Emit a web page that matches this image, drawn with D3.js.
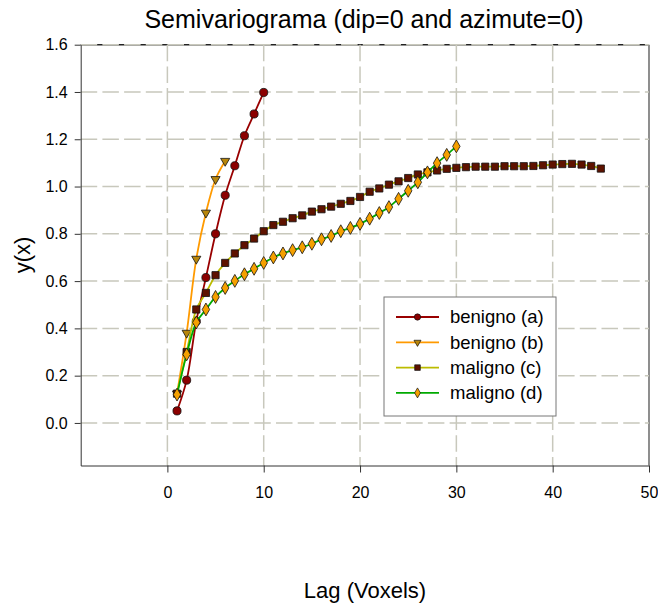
<html>
<head>
	<meta charset="utf-8">
	<title>Semivariograma</title>
	<script src="https://d3js.org/d3.v7.min.js"></script>

	<style>
	body {
	  margin: 0;
	  background: #fff;
	}
	text {
	  font-family: Arial, "Liberation Sans", sans-serif;
	  fill: #000;
	}
	.grid line {
	  stroke: #c8c8bc;
	  stroke-width: 1.5;
	  stroke-dasharray: 16.5, 5.2;
	}
	.axis path, .axis line {
	  stroke: #333;
	}
	.axis text {
	  font-size: 16px;
	}
	</style>
</head>
<body>
	<div id="chart"></div>

	<script>
		// data
		var lagA = [1, 2, 3, 4, 5, 6, 7, 8, 9, 10];
		var benignoA = [0.051, 0.181, 0.43, 0.615, 0.80, 0.963, 1.088, 1.215, 1.307, 1.398];

		var lagB = [1, 2, 3, 4, 5, 6];
		var benignoB = [0.124, 0.381, 0.694, 0.889, 1.031, 1.108];

		var lagC = d3.range(1, 46);
		var malignoC = [0.124, 0.30, 0.48, 0.55, 0.625, 0.677, 0.717, 0.752, 0.78, 0.811,
		                0.837, 0.851, 0.866, 0.878, 0.894, 0.904, 0.915, 0.927, 0.939, 0.956,
		                0.978, 0.992, 1.008, 1.022, 1.036, 1.051, 1.060, 1.068, 1.075, 1.079,
		                1.082, 1.084, 1.084, 1.084, 1.086, 1.086, 1.086, 1.087, 1.090, 1.093,
		                1.095, 1.096, 1.093, 1.087, 1.076];

		var lagD = d3.range(1, 31);
		var malignoD = [0.12, 0.29, 0.425, 0.48, 0.533, 0.571, 0.601, 0.629, 0.652, 0.677,
		                0.70, 0.717, 0.731, 0.743, 0.758, 0.777, 0.791, 0.811, 0.825, 0.842,
		                0.864, 0.888, 0.913, 0.948, 0.982, 1.018, 1.060, 1.099, 1.134, 1.170];

		var xTicks = [0, 10, 20, 30, 40, 50];
		var yTicks = [0, 0.2, 0.4, 0.6, 0.8, 1.0, 1.2, 1.4, 1.6];

		var series = [
		  {name: "benigno (a)", x: lagA, y: benignoA, line: "#990000", fill: "#8b0000", symbol: d3.symbolCircle, size: 52, rot: 0},
		  {name: "benigno (b)", x: lagB, y: benignoB, line: "#ff9a00", fill: "#b8860b", symbol: d3.symbolTriangle, size: 36, rot: 180},
		  {name: "maligno (c)", x: lagC, y: malignoC, line: "#bcbc00", fill: "#5e1200", symbol: d3.symbolSquare, size: 52, rot: 0},
		  {name: "maligno (d)", x: lagD, y: malignoD, line: "#00aa00", fill: "#f5a000", symbol: d3.symbolDiamond, size: 48, rot: 0}
		];

		var svg = d3.select("#chart")
			.append("svg")
			.attr("width", 658)
			.attr("height", 605),
		    margin = {top: 44.7, right: 9, bottom: 139.5, left: 80.7},
		    width = 658 - margin.left - margin.right,
		    height = 605 - margin.top - margin.bottom;

		var x = d3.scaleLinear().domain([-9, 50]).range([0, width]),
		    y = d3.scaleLinear().domain([-0.18, 1.6]).range([height, 0]);

		var g = svg.append("g")
		    .attr("transform", "translate(" + margin.left + "," + margin.top + ")");

		// frame top and right
		g.append("line").attr("x1", 0).attr("x2", width).attr("y1", 0).attr("y2", 0)
		    .attr("stroke", "#222").attr("stroke-width", 1.5);
		g.append("line").attr("x1", width).attr("x2", width).attr("y1", 0).attr("y2", height)
		    .attr("stroke", "#444").attr("stroke-width", 1.2);

		// dashed grid
		var grid = g.append("g").attr("class", "grid");
		grid.selectAll(".hy")
		    .data(yTicks)
		    .enter().append("line")
		      .attr("x1", 0).attr("x2", width)
		      .attr("y1", function(d) { return y(d); })
		      .attr("y2", function(d) { return y(d); });
		grid.selectAll(".vx")
		    .data(xTicks.slice(0, -1))
		    .enter().append("line")
		      .attr("y1", 0).attr("y2", height)
		      .attr("x1", function(d) { return x(d); })
		      .attr("x2", function(d) { return x(d); });

		// axes
		g.append("g")
		    .attr("class", "axis")
		    .attr("transform", "translate(0," + height + ")")
		    .call(d3.axisBottom(x).tickValues(xTicks).tickSize(7).tickSizeOuter(0).tickPadding(14))
		    .select(".domain").attr("stroke", "#222");

		g.append("g")
		    .attr("class", "axis")
		    .call(d3.axisLeft(y).tickValues(yTicks).tickSize(6).tickSizeOuter(0).tickPadding(7).tickFormat(d3.format(".1f")))
		    .select(".domain").attr("stroke", "#333");

		// lines then symbols
		var line = d3.line()
		    .curve(d3.curveCatmullRom)
		    .x(function(d) { return x(d[0]); })
		    .y(function(d) { return y(d[1]); });

		series.forEach(function(s) {
		  var pts = s.x.map(function(v, i) { return [v, s.y[i]]; });
		  g.append("path")
		      .datum(pts)
		      .attr("fill", "none")
		      .attr("stroke", s.line)
		      .attr("stroke-width", 1.8)
		      .attr("d", line);
		  g.selectAll(null)
		    .data(pts)
		    .enter().append("path")
		      .attr("transform", function(d) {
		        return "translate(" + x(d[0]) + "," + y(d[1]) + ") rotate(" + s.rot + ")";
		      })
		      .attr("d", d3.symbol().type(s.symbol).size(s.size))
		      .attr("fill", s.fill)
		      .attr("stroke", "#111")
		      .attr("stroke-width", 0.8);
		});

		// legend
		var lg = svg.append("g").attr("transform", "translate(384,297)");
		lg.append("rect")
		    .attr("width", 172).attr("height", 119)
		    .attr("fill", "#fff").attr("stroke", "#777").attr("stroke-width", 1);
		var item = lg.selectAll(".item")
		    .data(series)
		    .enter().append("g")
		      .attr("transform", function(d, i) { return "translate(0," + (20 + i * 25.3) + ")"; });
		item.append("line")
		    .attr("x1", 12).attr("x2", 55)
		    .attr("stroke", function(d) { return d.line; })
		    .attr("stroke-width", 1.8);
		item.append("path")
		    .attr("transform", function(d) { return "translate(33.5,0) rotate(" + d.rot + ")"; })
		    .attr("d", function(d) { return d3.symbol().type(d.symbol).size(d.size * 0.6)(); })
		    .attr("fill", function(d) { return d.fill; })
		    .attr("stroke", "#111")
		    .attr("stroke-width", 0.7);
		item.append("text")
		    .attr("x", 66)
		    .attr("dy", "0.35em")
		    .style("font-size", "18.5px")
		    .text(function(d) { return d.name; });

		// titles
		svg.append("text")
		    .attr("x", 364).attr("y", 28)
		    .attr("text-anchor", "middle")
		    .style("font-size", "25px")
		    .text("Semivariograma (dip=0 and azimute=0)");

		svg.append("text")
		    .attr("x", 365).attr("y", 598)
		    .attr("text-anchor", "middle")
		    .style("font-size", "22px")
		    .text("Lag (Voxels)");

		svg.append("text")
		    .attr("transform", "translate(30,255) rotate(-90)")
		    .attr("text-anchor", "middle")
		    .style("font-size", "22px")
		    .text("y(x)");
	</script>
</body>
</html>
